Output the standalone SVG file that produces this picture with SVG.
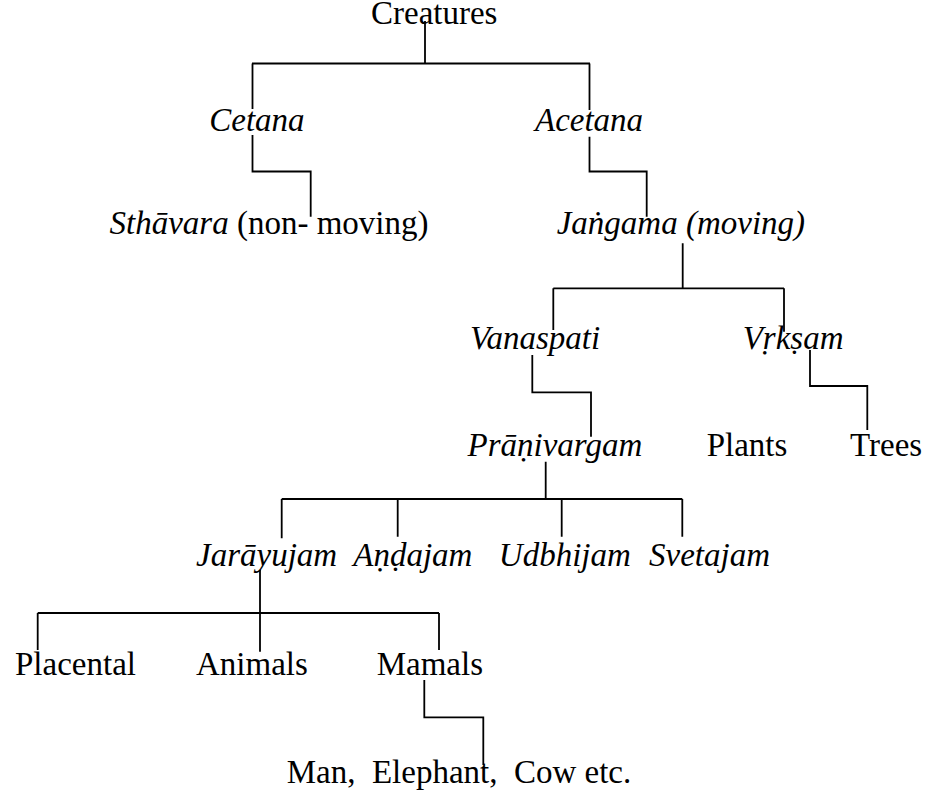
<svg xmlns="http://www.w3.org/2000/svg" width="930" height="797" viewBox="0 0 930 797">
  <style>
    text { font-family: "Liberation Serif", "Times New Roman", "DejaVu Serif", serif; font-size: 33px; fill: #000; }
    .it { font-style: italic; }
    .conn path { fill: none; stroke: #000; stroke-width: 1.8; stroke-linecap: butt; stroke-linejoin: miter; }
  </style>
  <rect width="930" height="797" fill="#fff"/>
  <g class="conn" id="connectors">
    <path d="M425 21 V63.5 M252 63.5 H590 M252.5 63.5 V109 M589.5 63.5 V110"/>
    <path d="M252.5 135 V171.5 H310.7 V216.7"/>
    <path d="M589.5 136.7 V171.5 H646.7 V216.7"/>
    <path d="M682.7 243.3 V288.3 M553.3 288.3 H784 M553.3 288.3 V330 M784 288.3 V331.7"/>
    <path d="M532.3 355 V392.3 H591 V436.7"/>
    <path d="M810 350 V386 H867.3 V430"/>
    <path d="M545.7 461.7 V499 M281.7 499 H682.3 M281.7 499 V538.3 M397.7 499 V536.7 M561.7 499 V536.7 M682.3 499 V536.7"/>
    <path d="M260 570 V613 M37.7 613 H439 M37.7 613 V650 M260 613 V651.7 M439 613 V650"/>
    <path d="M424.3 680 V717.3 H483.3 V765"/>
  </g>
  <g id="creatures"><text x="371" y="23.5">Creatures</text></g>
  <g id="cetana"><text class="it" x="209.3" y="130.5">Cetana</text></g>
  <g id="acetana"><text class="it" x="535" y="130.5">Acetana</text></g>
  <g id="sthavara"><text x="109.5" y="233.5"><tspan class="it">Sthāvara</tspan> (non- moving)</text></g>
  <g id="jangama"><text class="it" x="556.7" y="234">Jaṅgama (moving)</text></g>
  <g id="vanaspati"><text class="it" x="470" y="349.3">Vanaspati</text></g>
  <g id="vrksam"><text class="it" x="742.7" y="349.3">Vṛkṣam</text></g>
  <g id="pranivargam"><text class="it" x="467.5" y="455.5">Prāṇivargam</text></g>
  <g id="plants"><text x="706.7" y="455.5">Plants</text></g>
  <g id="trees"><text x="850" y="455.5">Trees</text></g>
  <g id="jarayujam"><text class="it" x="196" y="566.3">Jarāyujam</text></g>
  <g id="andajam"><text class="it" x="353.3" y="566.3">Aṇḍajam</text></g>
  <g id="udbhijam"><text class="it" x="498.8" y="566.3">Udbhijam</text></g>
  <g id="svetajam"><text class="it" x="649" y="566.3">Svetajam</text></g>
  <g id="placental"><text x="15" y="675">Placental</text></g>
  <g id="animals"><text x="196" y="675">Animals</text></g>
  <g id="mamals"><text x="376.7" y="675">Mamals</text></g>
  <g id="examples"><text x="286.7" y="782.7" xml:space="preserve">Man,  Elephant,  Cow etc.</text></g>
</svg>
